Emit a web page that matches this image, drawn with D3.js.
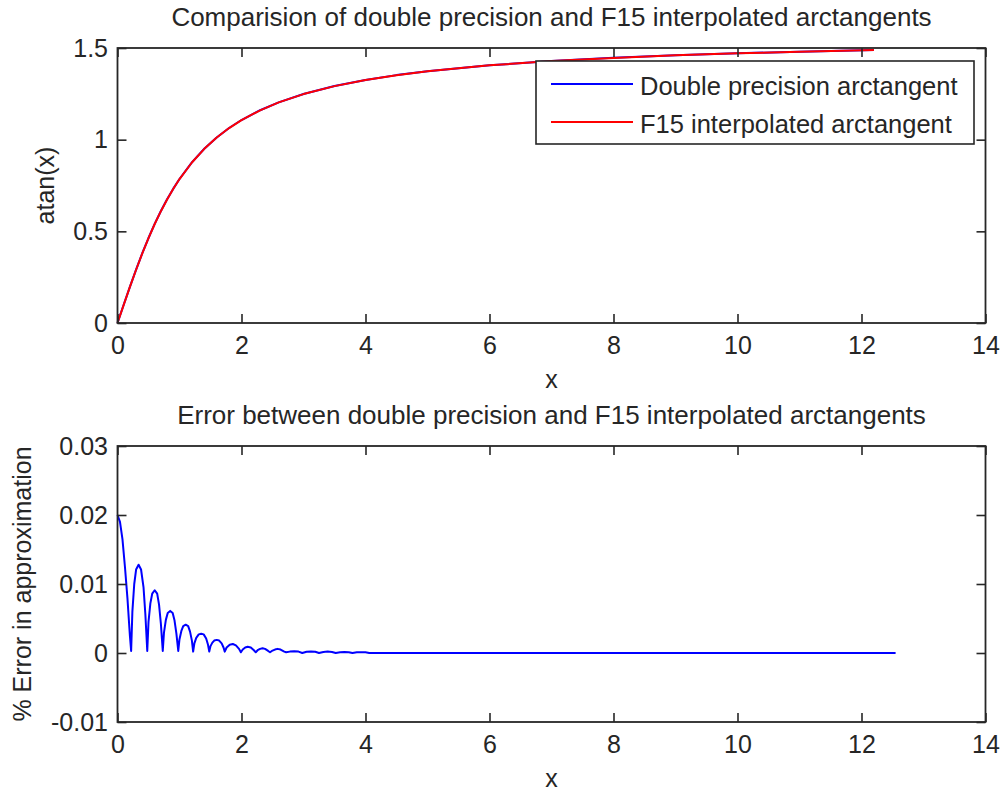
<!DOCTYPE html>
<html lang="en">

<head>
  <meta charset="UTF-8">
  <title>atan comparison</title>
  <style>
    body { margin: 0; background: #fff; }
    text { font-family: 'Liberation Sans', Arial, sans-serif; fill: #262626; }
  </style>
</head>

<body>
  <svg id="svg" width="1000" height="792"></svg>

  <script src="https://d3js.org/d3.v7.min.js"></script>
  <script>
    // top plot: x and atan(x)
    const atanX = [0, 0.1, 0.2, 0.3, 0.4, 0.5, 0.6, 0.7, 0.8, 0.9, 1.0, 1.2, 1.4, 1.6, 1.8, 2.0, 2.3, 2.6, 3.0, 3.5, 4, 4.5, 5, 6, 7, 8, 9, 10, 11, 12.2]
    const doubleY = [0, 0.0997, 0.1974, 0.2915, 0.3805, 0.4636, 0.5404, 0.6107, 0.6747, 0.7328, 0.7854, 0.8761, 0.9505, 1.0122, 1.0637, 1.1071, 1.1607, 1.2036, 1.2490, 1.2925, 1.3258, 1.3521, 1.3734, 1.4056, 1.4289, 1.4464, 1.4601, 1.4711, 1.4801, 1.4890]
    const f15Y = [0, 0.0990, 0.1970, 0.2905, 0.3800, 0.4630, 0.5400, 0.6100, 0.6740, 0.7320, 0.7850, 0.8755, 0.9500, 1.0115, 1.0632, 1.1066, 1.1602, 1.2032, 1.2486, 1.2921, 1.3255, 1.3518, 1.3731, 1.4053, 1.4286, 1.4461, 1.4599, 1.4709, 1.4799, 1.4888]

    // bottom plot: % error
    const errX = [0, 0.04, 0.08, 0.12, 0.16, 0.2, 0.22,
      0.24, 0.27, 0.3, 0.34, 0.38, 0.42, 0.45, 0.48,
      0.5, 0.53, 0.56, 0.6, 0.64, 0.67, 0.7, 0.73,
      0.75, 0.78, 0.81, 0.85, 0.89, 0.92, 0.95, 0.98,
      1.0, 1.03, 1.06, 1.1, 1.14, 1.17, 1.2, 1.22,
      1.24, 1.27, 1.31, 1.35, 1.39, 1.43, 1.46, 1.48,
      1.5, 1.53, 1.56, 1.6, 1.64, 1.68, 1.71, 1.73,
      1.76, 1.81, 1.86, 1.91, 1.96, 1.99,
      2.02, 2.06, 2.1, 2.15, 2.2, 2.23,
      2.26, 2.3, 2.34, 2.38, 2.43, 2.46,
      2.49, 2.54, 2.58, 2.63, 2.69, 2.72,
      2.78, 2.85, 2.92, 2.98,
      3.05, 3.12, 3.19, 3.25,
      3.32, 3.39, 3.46, 3.52,
      3.59, 3.66, 3.73, 3.79,
      3.86, 3.93, 4.0, 4.06,
      4.2, 12.55]
    const errY = [0.0200, 0.0190, 0.0165, 0.0125, 0.0080, 0.0025, 0.0003,
      0.0060, 0.0100, 0.0121, 0.0128, 0.0121, 0.0095, 0.0055, 0.0003,
      0.0045, 0.0072, 0.0086, 0.0091, 0.0086, 0.0070, 0.0042, 0.0003,
      0.0030, 0.0048, 0.0058, 0.0061, 0.0058, 0.0047, 0.0028, 0.0003,
      0.0020, 0.0032, 0.0039, 0.0041, 0.0039, 0.0031, 0.0018, 0.0002,
      0.0014, 0.0022, 0.0027, 0.0028, 0.0027, 0.0021, 0.0012, 0.0002,
      0.0010, 0.0015, 0.0018, 0.0019, 0.0018, 0.0014, 0.0008, 0.0002,
      0.0008, 0.0012, 0.0013, 0.0011, 0.0006, 0.0001,
      0.0005, 0.0008, 0.0009, 0.0008, 0.0004, 0.0001,
      0.0004, 0.0006, 0.0007, 0.0006, 0.0003, 0.0001,
      0.0003, 0.0005, 0.0006, 0.0005, 0.0002, 0.0001,
      0.0002, 0.00025, 0.0002, 0.0000,
      0.00018, 0.0002, 0.00018, 0.0000,
      0.00015, 0.0002, 0.00015, 0.0000,
      0.00012, 0.00015, 0.00012, 0.0000,
      0.0001, 0.00012, 0.0001, 0.0000,
      0.0000, 0.0000]

    const xTicks = [0, 2, 4, 6, 8, 10, 12, 14]
    const topTicks = [0, 0.5, 1, 1.5]
    const topTickLabels = ['0', '0.5', '1', '1.5']
    const botTicks = [-0.01, 0, 0.01, 0.02, 0.03]
    const botTickLabels = ['-0.01', '0', '0.01', '0.02', '0.03']
    const legendNames = ['Double precision arctangent', 'F15 interpolated arctangent']
    const legendColors = ['#0000ff', '#ff0000']

    const svg = d3.select('#svg')
    const left = 117.5, right = 985.5

    function panel(y0, y1, yDomain, yTicks, yLabels, title, ylabel, ylabelX, series) {
      const xScale = d3.scaleLinear().domain([0, 14]).range([left, right])
      const yScale = d3.scaleLinear().domain(yDomain).range([y1, y0])
      const g = svg.append('g')

      const line = d3.line().x(d => xScale(d[0])).y(d => yScale(d[1]))
      series.forEach(s => {
        g.append('path')
          .attr('d', line(d3.zip(s.x, s.y)))
          .attr('fill', 'none')
          .attr('stroke', s.color)
          .attr('stroke-width', 2)
          .attr('stroke-linejoin', 'round')
      })

      const fmtY = d => yLabels[yTicks.indexOf(d)]
      g.append('g')
        .attr('transform', `translate(0,${y1})`)
        .call(d3.axisBottom(xScale).tickValues(xTicks).tickFormat(d3.format('d')).tickSizeInner(-9).tickSizeOuter(0).tickPadding(13))
      g.append('g')
        .attr('transform', `translate(0,${y0})`)
        .call(d3.axisTop(xScale).tickValues(xTicks).tickFormat('').tickSizeInner(-9).tickSizeOuter(0))
      g.append('g')
        .attr('transform', `translate(${left},0)`)
        .call(d3.axisLeft(yScale).tickValues(yTicks).tickFormat(fmtY).tickSizeInner(-9).tickSizeOuter(0).tickPadding(9.5))
      g.append('g')
        .attr('transform', `translate(${right},0)`)
        .call(d3.axisRight(yScale).tickValues(yTicks).tickFormat('').tickSizeInner(-9).tickSizeOuter(0))

      g.selectAll('.domain').remove()
      g.selectAll('.tick line').attr('stroke', '#262626').attr('stroke-width', 1.6)
      g.selectAll('.tick text').style('font-size', '25px').attr('fill', '#262626')

      g.append('rect')
        .attr('x', left).attr('y', y0)
        .attr('width', right - left).attr('height', y1 - y0)
        .attr('fill', 'none')
        .attr('stroke', '#262626')
        .attr('stroke-width', 1.8)

      g.append('text')
        .attr('x', (left + right) / 2).attr('y', y0 - 22)
        .attr('text-anchor', 'middle')
        .style('font-size', '26px')
        .text(title)
      g.append('text')
        .attr('x', (left + right) / 2).attr('y', y1 + 65)
        .attr('text-anchor', 'middle')
        .style('font-size', '25px')
        .text('x')
      g.append('text')
        .attr('transform', `translate(${ylabelX},${(y0 + y1) / 2}) rotate(-90)`)
        .attr('text-anchor', 'middle')
        .style('font-size', '25px')
        .text(ylabel)
      return g
    }

    const topPanel = panel(48, 323, [0, 1.5], topTicks, topTickLabels,
      'Comparision of double precision and F15 interpolated arctangents', 'atan(x)', 54,
      [{ x: atanX, y: doubleY, color: legendColors[0] }, { x: atanX, y: f15Y, color: legendColors[1] }])

    panel(446, 722, [-0.01, 0.03], botTicks, botTickLabels,
      'Error between double precision and F15 interpolated arctangents', '% Error in approximation', 31,
      [{ x: errX, y: errY, color: legendColors[0] }])

    // legend
    const lg = topPanel.append('g')
    lg.append('rect')
      .attr('x', 536).attr('y', 61).attr('width', 438).attr('height', 83)
      .attr('fill', '#fff').attr('stroke', '#262626').attr('stroke-width', 1.6)
    legendNames.forEach((name, i) => {
      const y = 84 + i * 38
      lg.append('line')
        .attr('x1', 551).attr('x2', 633).attr('y1', y).attr('y2', y)
        .attr('stroke', legendColors[i]).attr('stroke-width', 2)
      lg.append('text')
        .attr('x', 640).attr('y', y + 11)
        .style('font-size', '25.5px')
        .text(name)
    })
  </script>
</body>

</html>
